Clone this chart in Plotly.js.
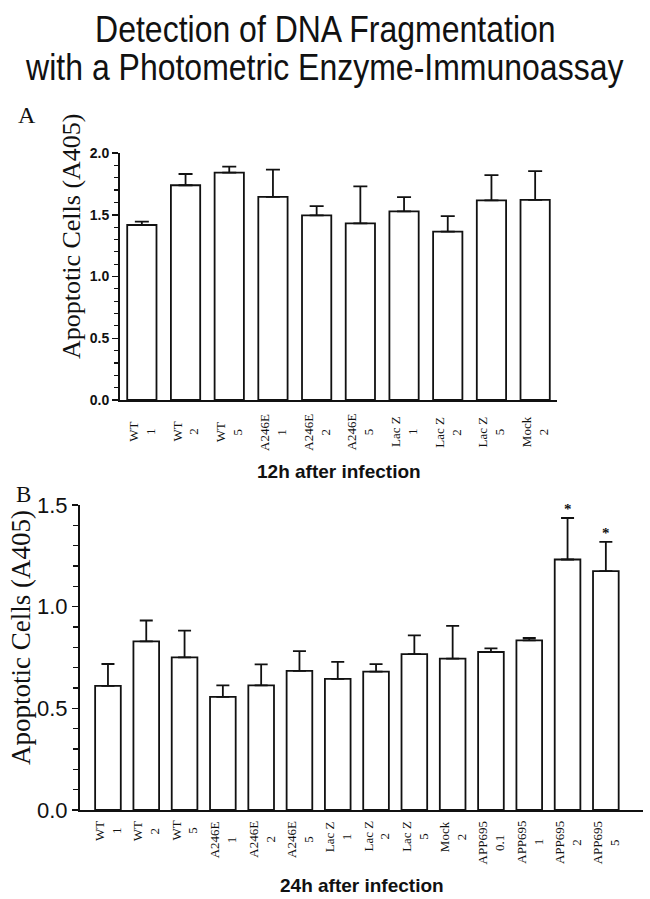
<!DOCTYPE html>
<html>
<head>
<meta charset="utf-8">
<script src="https://cdn.plot.ly/plotly-3.0.1.min.js"></script>
<style>html,body{margin:0;padding:0;background:#fff;}#chart{width:650px;height:899px;}</style>
</head>
<body>
<div id="chart"></div>
<script>
// ---- Data ----
const titleLines = ["Detection of DNA Fragmentation", "with a Photometric Enzyme-Immunoassay"];
const yTitle = "Apoptotic Cells (A405)";

// Panel A: 12h after infection
const groupsA = ["WT", "WT", "WT", "A246E", "A246E", "A246E", "Lac Z", "Lac Z", "Lac Z", "Mock"];
const dosesA  = ["1", "2", "5", "1", "2", "5", "1", "2", "5", "2"];
const valuesA = [1.417, 1.739, 1.841, 1.645, 1.495, 1.430, 1.527, 1.363, 1.616, 1.621];
const errorsA = [0.027, 0.091, 0.048, 0.220, 0.075, 0.300, 0.116, 0.126, 0.205, 0.232];
const xTitleA = "12h after infection";

// Panel B: 24h after infection
const groupsB = ["WT", "WT", "WT", "A246E", "A246E", "A246E", "Lac Z", "Lac Z", "Lac Z", "Mock", "APP695", "APP695", "APP695", "APP695"];
const dosesB  = ["1", "2", "5", "1", "2", "5", "1", "2", "5", "2", "0.1", "1", "2", "5"];
const valuesB = [0.610, 0.829, 0.751, 0.556, 0.613, 0.684, 0.645, 0.681, 0.767, 0.744, 0.777, 0.834, 1.232, 1.175];
const errorsB = [0.108, 0.103, 0.131, 0.057, 0.103, 0.097, 0.083, 0.036, 0.092, 0.162, 0.018, 0.012, 0.204, 0.144];
const signifB = ["", "", "", "", "", "", "", "", "", "", "", "", "*", "*"];
const xTitleB = "24h after infection";

// ---- Layout helpers (page pixels -> paper) ----
const W = 650, H = 899;
const px = x => x / W;
const py = y => 1 - y / H;

const SANS = "Liberation Sans, Arial, sans-serif";
const SERIF = "Liberation Serif, Times New Roman, serif";
const INK = "#111";

const idxA = groupsA.map((_, i) => i);
const idxB = groupsB.map((_, i) => i);

const barStyle = {color: "#fff", line: {color: INK, width: 1.8}};

const traces = [
  {
    type: "bar", x: idxA, y: valuesA, xaxis: "x", yaxis: "y",
    width: 0.67, marker: barStyle, hoverinfo: "skip",
    error_y: {type: "data", symmetric: false, array: errorsA, arrayminus: errorsA.map(() => 0),
              color: INK, thickness: 1.8, width: 7}
  },
  {
    type: "bar", x: idxB, y: valuesB, xaxis: "x2", yaxis: "y2",
    width: 0.67, marker: barStyle, hoverinfo: "skip",
    error_y: {type: "data", symmetric: false, array: errorsB, arrayminus: errorsB.map(() => 0),
              color: INK, thickness: 1.8, width: 6.5}
  }
];

const annotations = [];
// Title lines
annotations.push({text: titleLines[0], xref: "paper", yref: "paper", x: px(326), y: py(29),
  xanchor: "center", yanchor: "middle", showarrow: false, font: {family: SANS, size: 32, color: INK}});
annotations.push({text: titleLines[1], xref: "paper", yref: "paper", x: px(324), y: py(67),
  xanchor: "center", yanchor: "middle", showarrow: false, font: {family: SANS, size: 32, color: INK}});
// Panel letters
annotations.push({text: "A", xref: "paper", yref: "paper", x: px(27), y: py(115),
  xanchor: "center", yanchor: "middle", showarrow: false, font: {family: SERIF, size: 24, color: INK}});
annotations.push({text: "B", xref: "paper", yref: "paper", x: px(23), y: py(494),
  xanchor: "center", yanchor: "middle", showarrow: false, font: {family: SERIF, size: 23, color: INK}});
// Y titles
annotations.push({text: yTitle, xref: "paper", yref: "paper", x: px(72), y: py(236), textangle: -90,
  xanchor: "center", yanchor: "middle", showarrow: false, font: {family: SERIF, size: 26, color: INK}});
annotations.push({text: yTitle, xref: "paper", yref: "paper", x: px(21), y: py(638), textangle: -90,
  xanchor: "center", yanchor: "middle", showarrow: false, font: {family: SERIF, size: 27, color: INK}});
// X titles
annotations.push({text: "<b>" + xTitleA + "</b>", xref: "paper", yref: "paper", x: px(339), y: py(471),
  xanchor: "center", yanchor: "middle", showarrow: false, font: {family: SANS, size: 19, color: INK}});
annotations.push({text: "<b>" + xTitleB + "</b>", xref: "paper", yref: "paper", x: px(362), y: py(885),
  xanchor: "center", yanchor: "middle", showarrow: false, font: {family: SANS, size: 19, color: INK}});
// Category labels
idxA.forEach(i => annotations.push({
  text: groupsA[i] + "<br>" + dosesA[i], xref: "x", yref: "paper", x: i, y: py(432), textangle: -90,
  xanchor: "center", yanchor: "middle", showarrow: false, align: "center",
  font: {family: SERIF, size: 13, color: INK}}));
idxB.forEach(i => annotations.push({
  text: groupsB[i] + "<br>" + dosesB[i], xref: "x2", yref: "paper", x: i, y: py(819), textangle: -90,
  xanchor: "center", yanchor: "top", showarrow: false, align: "center",
  font: {family: SERIF, size: 13, color: INK}}));
// Significance stars
idxB.forEach(i => { if (signifB[i]) annotations.push({
  text: "<b>" + signifB[i] + "</b>", xref: "x2", yref: "y2", x: i, y: valuesB[i] + errorsB[i], yshift: 9,
  xanchor: "center", yanchor: "middle", showarrow: false,
  font: {family: SERIF, size: 15, color: INK}}); });

const layout = {
  width: W, height: H,
  margin: {l: 0, r: 0, t: 0, b: 0},
  paper_bgcolor: "#fff", plot_bgcolor: "#fff",
  showlegend: false,
  xaxis: {domain: [px(120), px(557)], range: [-0.5, 9.5], anchor: "y",
          showline: true, linecolor: INK, linewidth: 2, showgrid: false, zeroline: false,
          showticklabels: false, ticks: "", fixedrange: true},
  yaxis: {domain: [py(400), py(153)], range: [0, 2.0], anchor: "x",
          showline: true, linecolor: INK, linewidth: 2, showgrid: false, zeroline: false,
          tickvals: [0, 0.5, 1.0, 1.5, 2.0], ticktext: ["0.0", "0.5", "1.0", "1.5", "2.0"],
          ticks: "outside", ticklen: 6, tickwidth: 1.5, tickcolor: INK,
          minor: {dtick: 0.1, ticks: "outside", ticklen: 4, tickwidth: 1.2, tickcolor: INK},
          tickfont: {family: SANS, size: 14, color: INK, weight: "bold"}, fixedrange: true},
  xaxis2: {domain: [px(80), px(643)], range: [-0.73, 13.97], anchor: "y2",
           showline: true, linecolor: INK, linewidth: 2, showgrid: false, zeroline: false,
           showticklabels: false, ticks: "", fixedrange: true},
  yaxis2: {domain: [py(810), py(505)], range: [0, 1.5], anchor: "x2",
           showline: true, linecolor: INK, linewidth: 2, showgrid: false, zeroline: false,
           tickvals: [0, 0.5, 1.0, 1.5], ticktext: ["0.0", "0.5", "1.0", "1.5"],
           ticks: "outside", ticklen: 6, tickwidth: 1.5, tickcolor: INK,
           minor: {dtick: 0.1, ticks: "outside", ticklen: 5, tickwidth: 1.2, tickcolor: INK},
           tickfont: {family: SANS, size: 22, color: INK}, fixedrange: true},
  annotations: annotations
};

Plotly.newPlot("chart", traces, layout, {staticPlot: true, displayModeBar: false}).then(gd => {
  // The reference title uses a tall, condensed sans face: stretch the title glyphs vertically.
  gd.querySelectorAll("g.annotation text").forEach(t => {
    const s = t.getAttribute("data-unformatted");
    if (titleLines.includes(s)) {
      const b = t.getBBox();
      const cy = b.y + b.height / 2;
      t.setAttribute("transform", `translate(0,${cy}) scale(1,1.18) translate(0,${-cy})`);
    }
  });
});
</script>
</body>
</html>
